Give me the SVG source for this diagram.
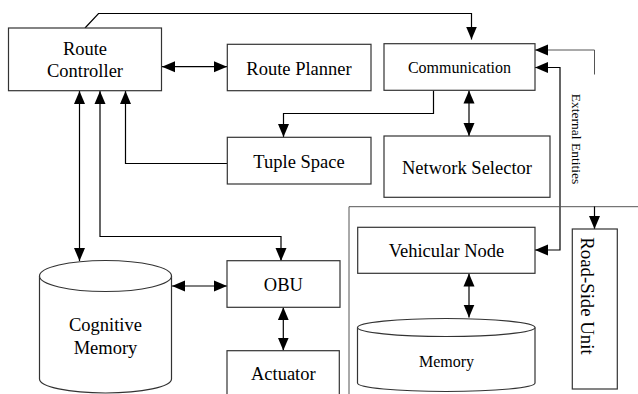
<svg xmlns="http://www.w3.org/2000/svg" width="638" height="394" viewBox="0 0 638 394">
<style>
.box{fill:#fff;stroke:#333;stroke-width:1.2}
.cyl{fill:#fff;stroke:#333;stroke-width:1.2}
.t{font-family:"Liberation Serif","Times New Roman",serif;fill:#000;text-anchor:middle}
.l{font-size:18.5px}
.s{font-size:16px}
.c{fill:none;stroke:#000;stroke-width:1.2}
.g{fill:none;stroke:#555;stroke-width:1}
</style>
<defs>
<marker id="ah" markerUnits="userSpaceOnUse" markerWidth="14" markerHeight="12" refX="13" refY="6" orient="auto-start-reverse" viewBox="0 0 14 12">
<path d="M0,0.5 L13,6 L0,11.5 z" fill="#000"/>
</marker>
</defs>
<rect width="638" height="394" fill="#fff"/>
<g id="connectors">
<path class="c" d="M85,28 L98.5,13.5 H471.5 V39.5" marker-end="url(#ah)"/>
<path class="c" d="M162,66.7 H227" marker-start="url(#ah)" marker-end="url(#ah)"/>
<path class="c" d="M433.5,90.5 V113.5 H283.5 V137" marker-end="url(#ah)"/>
<path class="c" d="M227,163.5 H125.5 V91" marker-end="url(#ah)"/>
<path class="c" d="M79.5,91 V261" marker-start="url(#ah)" marker-end="url(#ah)"/>
<path class="c" d="M100,91 V236.5 H281 V261" marker-start="url(#ah)" marker-end="url(#ah)"/>
<path class="c" d="M172,286 H227" marker-start="url(#ah)" marker-end="url(#ah)"/>
<path class="c" d="M283.3,307.3 V350.5" marker-start="url(#ah)" marker-end="url(#ah)"/>
<path class="c" d="M469,90.5 V136" marker-start="url(#ah)" marker-end="url(#ah)"/>
<path class="g" d="M594.5,74.5 V50 H535" marker-end="url(#ah)"/>
<path class="c" d="M535,250 H560 V67.5 H535" marker-start="url(#ah)" marker-end="url(#ah)"/>
<path class="g" d="M349,394 V206.7 H638"/>
<path class="c" d="M594.5,206.5 V229" marker-end="url(#ah)"/>
<path class="c" d="M469,273.5 V317.5" marker-start="url(#ah)" marker-end="url(#ah)"/>
</g>
<g id="route-controller">
<rect class="box" x="8.5" y="28" width="153" height="62.7"/>
<text class="t l" x="85" y="55">Route</text>
<text class="t l" x="85" y="77.3">Controller</text>
</g>
<g id="route-planner">
<rect class="box" x="227.3" y="44.3" width="143.7" height="46.4"/>
<text class="t l" x="299" y="75">Route Planner</text>
</g>
<g id="communication">
<rect class="box" x="384" y="43.7" width="151" height="46.6"/>
<text class="t s" x="459.5" y="73.3">Communication</text>
</g>
<g id="tuple-space">
<rect class="box" x="227.3" y="137.3" width="143.7" height="46.7"/>
<text class="t l" x="299" y="168.3">Tuple Space</text>
</g>
<g id="network-selector">
<rect class="box" x="384" y="136" width="166" height="61.3"/>
<text class="t l" x="467" y="174">Network Selector</text>
</g>
<g id="external-entities">
<text class="t" font-size="13.5" transform="translate(572,139) rotate(90)">External Entities</text>
</g>
<g id="cognitive-memory">
<path class="cyl" d="M39.5,276 V379 A66,14 0 0 0 171.5,379 V276"/>
<ellipse class="cyl" cx="105.5" cy="276" rx="66" ry="15.5"/>
<text class="t l" x="105.5" y="330.7">Cognitive</text>
<text class="t l" x="105.5" y="354">Memory</text>
</g>
<g id="obu">
<rect class="box" x="227" y="260.7" width="113" height="46.6"/>
<text class="t l" x="283.3" y="290.7">OBU</text>
</g>
<g id="actuator">
<rect class="box" x="227" y="350.7" width="112.3" height="50"/>
<text class="t l" x="283.3" y="380">Actuator</text>
</g>
<g id="vehicular-node">
<rect class="box" x="357.7" y="227.3" width="177.3" height="46"/>
<text class="t l" x="446.5" y="256.7">Vehicular Node</text>
</g>
<g id="memory">
<path class="cyl" d="M357.5,327.5 V383 A88.75,8.5 0 0 0 535,383 V327.5"/>
<ellipse class="cyl" cx="446.25" cy="327.5" rx="88.75" ry="9"/>
<text class="t s" x="446.5" y="366.7">Memory</text>
</g>
<g id="road-side-unit">
<rect class="box" x="572.3" y="229" width="45" height="160"/>
<text class="t" font-size="18.8" transform="translate(581,296) rotate(90)">Road-Side Unit</text>
</g>
</svg>
